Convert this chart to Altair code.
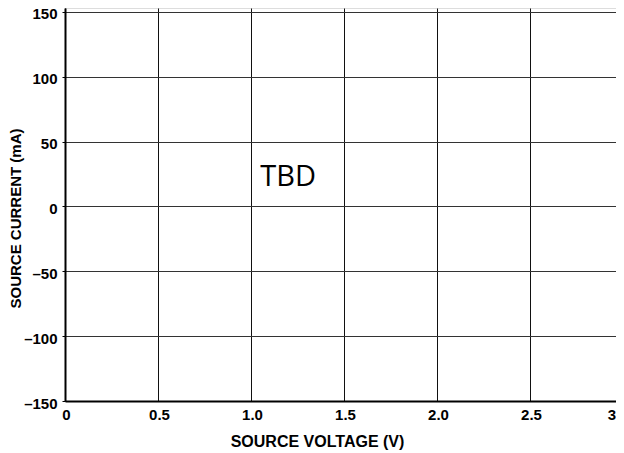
import altair as alt
import pandas as pd

# Axis ticks / labels
x_ticks = [0, 0.5, 1.0, 1.5, 2.0, 2.5, 3.0]
y_ticks = [-150, -100, -50, 0, 50, 100, 150]
x_domain = [0, 3.0]
y_domain = [-150, 153]

# Annotation placed at data coordinates
note_text = ["TBD"]
note_x = [1.2]
note_y = [23]

notes = pd.DataFrame({"x": note_x, "y": note_y, "t": note_text})

FONT = "Liberation Sans"

x_enc = alt.X(
    "x:Q",
    scale=alt.Scale(domain=x_domain, nice=False, zero=False),
    axis=alt.Axis(
        values=x_ticks,
        title="SOURCE VOLTAGE (V)",
        labelExpr="datum.value == 0 ? '0' : format(datum.value, '.1f')",
        grid=True,
        gridColor="#111111",
        gridWidth=1,
        domainColor="#000000",
        domainWidth=2,
        ticks=False,
        labelPadding=6,
        labelFont=FONT,
        labelFontWeight="bold",
        labelFontSize=15,
        labelColor="#000000",
        labelFlush=False,
        labelOverlap=False,
        labelAlign={"condition": {"test": "datum.value >= 3", "value": "right"}, "value": "center"},
        labelOffset={"condition": {"test": "datum.value >= 3", "value": 5}, "value": 1},
        titleFont=FONT,
        titleFontWeight="bold",
        titleFontSize=16,
        titleColor="#000000",
        titleX=252,
        titleY=45,
        titleBaseline="alphabetic",
        titleAnchor="start",
        titleAlign="center",
    ),
)

y_enc = alt.Y(
    "y:Q",
    scale=alt.Scale(domain=y_domain, nice=False, zero=False),
    axis=alt.Axis(
        values=y_ticks,
        title="SOURCE CURRENT (mA)",
        labelExpr="datum.value < 0 ? '\u2013' + abs(datum.value) : datum.label",
        grid=True,
        gridColor="#333333",
        gridWidth=1,
        domainColor="#000000",
        domainWidth=2,
        ticks=True,
        tickSize=3,
        tickColor="#000000",
        labelPadding=5,
        labelOffset=2,
        labelFont=FONT,
        labelFontWeight="bold",
        labelFontSize=15,
        labelColor="#000000",
        labelFlush=False,
        labelOverlap=False,
        titleFont=FONT,
        titleFontWeight="bold",
        titleFontSize=15,
        titleColor="#000000",
        titleAngle=270,
        titleX=-50,
        titleY=210,
        titleBaseline="middle",
        titleAlign="center",
        titleAnchor="start",
    ),
)

chart = (
    alt.Chart(notes)
    .mark_text(font="Open Sans", fontSize=29, fontWeight="normal", color="#000000", baseline="middle", align="center")
    .encode(x=x_enc, y=y_enc, text="t:N")
    .properties(
        width=558,
        height=393,
        autosize=alt.AutoSizeParams(type="none"),
        padding={"left": 57, "top": 0, "right": -7, "bottom": 50},
    )
    .configure_view(stroke=None)
    .configure(background="#ffffff")
)

chart.save("out.html", embed_options={"renderer": "svg", "actions": False})
